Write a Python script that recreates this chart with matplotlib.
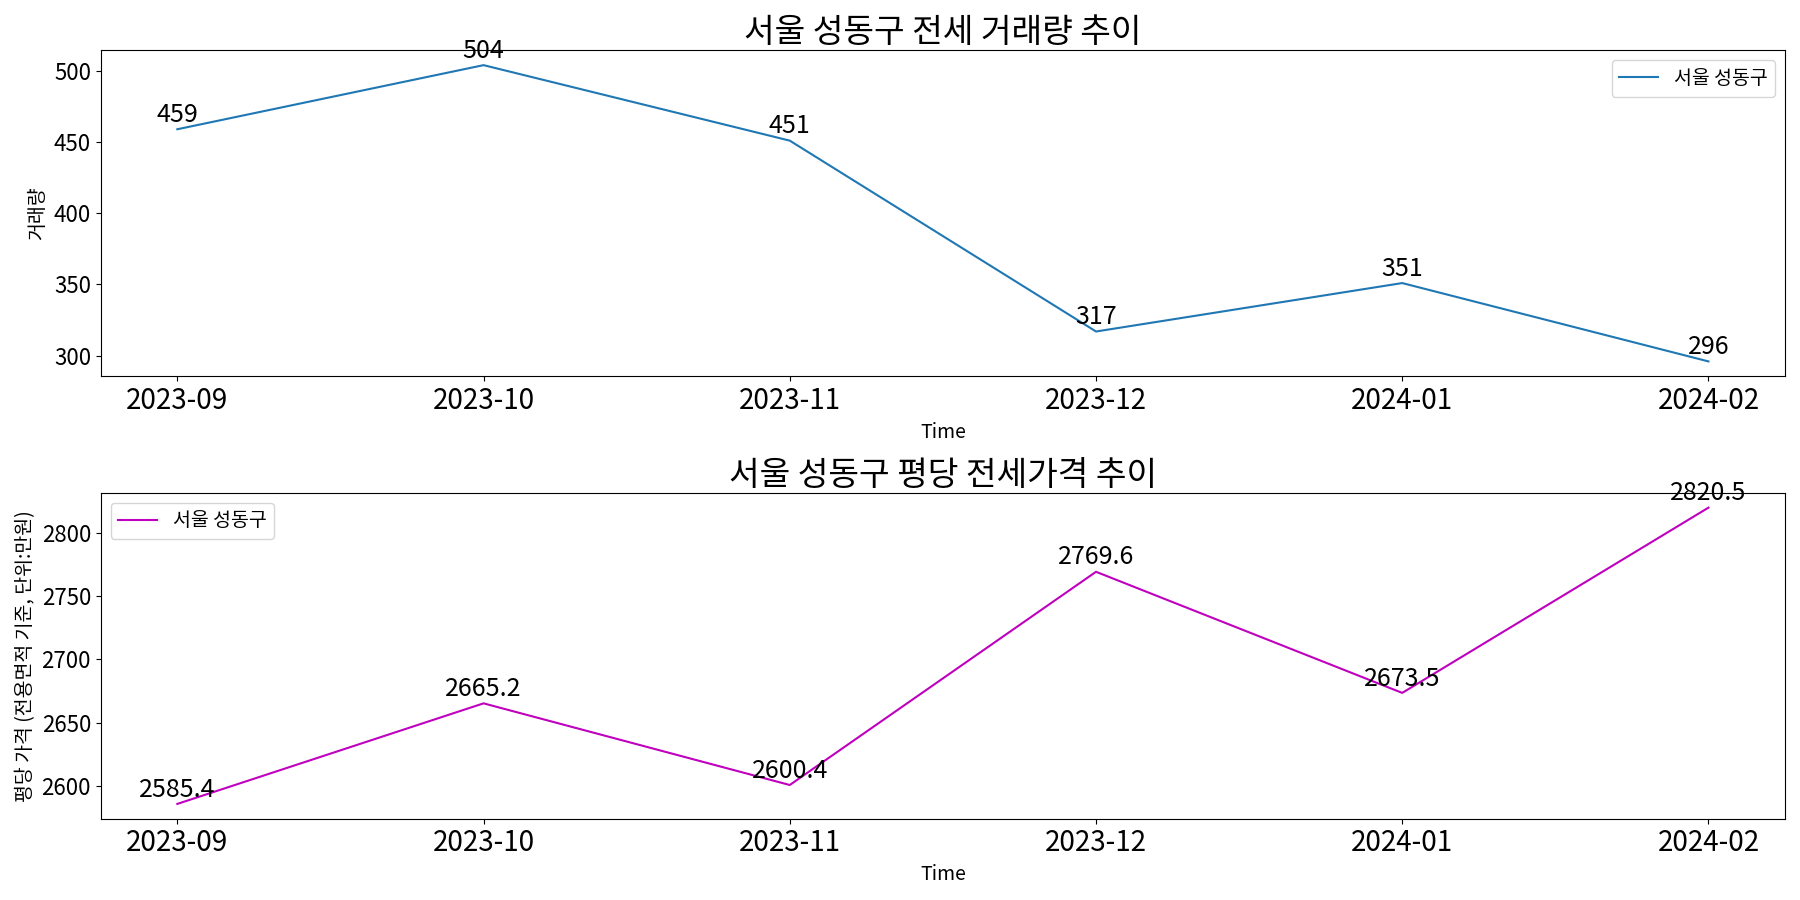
import matplotlib
matplotlib.use("Agg")
import matplotlib.pyplot as plt
from matplotlib import font_manager

names = {f.name for f in font_manager.fontManager.ttflist}
cands = ["Noto Sans CJK KR", "Noto Sans CJK JP", "Noto Sans CJK SC", "Noto Sans CJK TC"]
fam = [c for c in cands if c in names] or ["DejaVu Sans"]
plt.rcParams["font.family"] = fam + ["DejaVu Sans"]
plt.rcParams["axes.unicode_minus"] = False

months = ["2023-09", "2023-10", "2023-11", "2023-12", "2024-01", "2024-02"]
volume = [459, 504, 451, 317, 351, 296]
price = [2585.4, 2665.2, 2600.4, 2769.6, 2673.5, 2820.5]

fig, (ax1, ax2) = plt.subplots(2, 1, figsize=(18, 9), dpi=100)

ax1.plot(months, volume, color="#1f77b4", label="서울 성동구")
for m, v in zip(months, volume):
    ax1.annotate(f"{v}", (m, v), xytext=(0, 1), textcoords="offset points",
                 ha="center", va="bottom", fontsize=18)
ax1.set_title("서울 성동구 전세 거래량 추이", fontsize=24)
ax1.set_xlabel("Time", fontsize=14)
ax1.set_ylabel("거래량", fontsize=14)
ax1.tick_params(axis="x", labelsize=20)
ax1.tick_params(axis="y", labelsize=16)
ax1.legend(loc="upper right", fontsize=14)

ax2.plot(months, price, color="m", label="서울 성동구")
for m, v in zip(months, price):
    ax2.annotate(f"{v}", (m, v), xytext=(0, 1), textcoords="offset points",
                 ha="center", va="bottom", fontsize=18)
ax2.set_title("서울 성동구 평당 전세가격 추이", fontsize=24)
ax2.set_xlabel("Time", fontsize=14)
ax2.set_ylabel("평당 가격 (전용면적 기준, 단위:만원)", fontsize=14)
ax2.tick_params(axis="x", labelsize=20)
ax2.tick_params(axis="y", labelsize=16)
ax2.legend(loc="upper left", fontsize=14)

fig.tight_layout()
fig.savefig("out.png")
